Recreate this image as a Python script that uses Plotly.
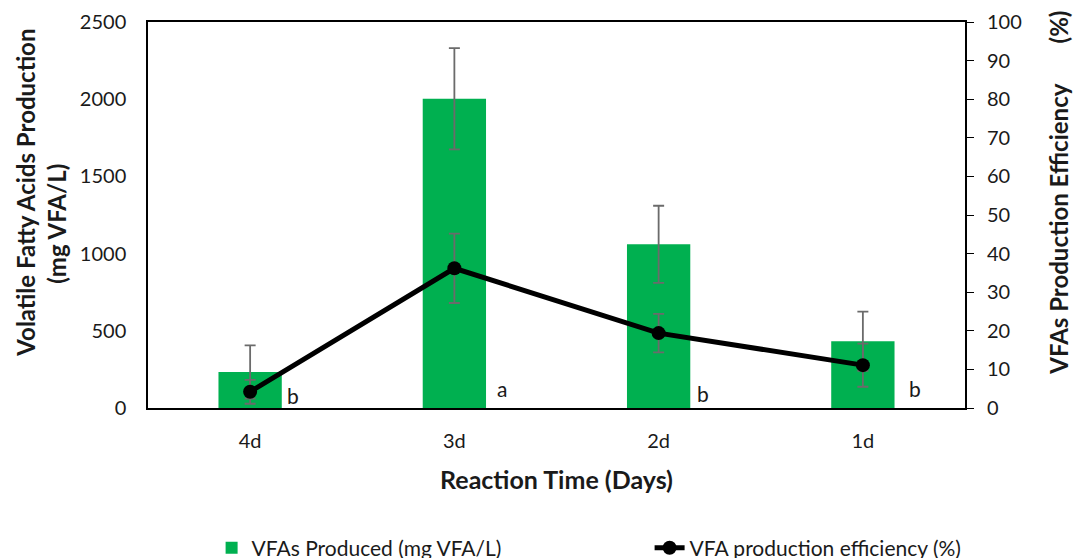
import plotly.graph_objects as go
from plotly.subplots import make_subplots

categories = ["4d", "3d", "2d", "1d"]
vfa_produced = [233, 2003, 1060, 432]
vfa_produced_err = [172, 328, 250, 192]
efficiency = [4.2, 36.2, 19.4, 11.1]
efficiency_err = [3.1, 9.0, 5.0, 5.6]
letters = ["b", "a", "b", "b"]
left_ticks = [0, 500, 1000, 1500, 2000, 2500]
right_ticks = list(range(0, 101, 10))

FONT = "Lato"
TXT = "#1a1a1a"
NB = "\u00a0"
fig = make_subplots(specs=[[{"secondary_y": True}]])

fig.add_trace(go.Bar(
    x=categories, y=vfa_produced, name="VFAs Produced (mg VFA/L)",
    marker=dict(color="#00B050", line=dict(width=0)),
    error_y=dict(type="data", array=vfa_produced_err, color="#6b6b6b", thickness=1.8, width=5.5),
    legendwidth=393,
), secondary_y=False)

fig.add_trace(go.Scatter(
    x=categories, y=efficiency, name="VFA production efficiency (%)",
    mode="lines+markers",
    line=dict(color="black", width=5),
    marker=dict(color="black", size=14),
    error_y=dict(type="data", array=efficiency_err, color="#6b6b6b", thickness=1.8, width=5.5),
), secondary_y=True)

shifts = [43, 48, 44, 52]
yshift = [13, 20, 15, 20]
for c, l, xs, ys in zip(categories, letters, shifts, yshift):
    fig.add_annotation(x=c, y=0, xref="x", yref="y", text=l, showarrow=False,
                       xshift=xs, yshift=ys, font=dict(family=FONT, size=21, color=TXT))

# page body has an 8px margin: plot area targeted at x 148..965, y 22..408 on screen
fig.update_layout(
    width=1083, height=558,
    margin=dict(l=140, r=126, t=14, b=158, autoexpand=False),
    paper_bgcolor="white", plot_bgcolor="white",
    bargap=0.69,
    font=dict(family=FONT, size=20, color=TXT),
    showlegend=True,
    legend=dict(orientation="h", xref="container", yref="container",
                x=0.188, xanchor="left", y=0.032, yanchor="middle",
                font=dict(family=FONT, size=21, color=TXT),
                itemwidth=30),
)

fig.update_xaxes(
    domain=[0, 1],
    showline=True, linecolor="black", linewidth=2, mirror=True,
    ticks="", ticklabelstandoff=14, automargin=False,
    title=dict(text="<b>Reaction Time (Days)</b>", font=dict(family=FONT, size=25, color=TXT), standoff=20),
)
fig.update_yaxes(
    range=[0, 2500], tickvals=left_ticks, showgrid=False, zeroline=False,
    showline=True, linecolor="black", linewidth=1.5, ticks="", automargin=False,
    ticklabelstandoff=16,
    title=dict(text="<b>" + NB * 8 + "Volatile Fatty Acids Production<br>(mg VFA/L)" + NB * 3 + "</b>",
               font=dict(family=FONT, size=24, color=TXT), standoff=6),
    secondary_y=False,
)
fig.update_yaxes(
    range=[0, 100], tickvals=right_ticks, showgrid=False, zeroline=False,
    showline=True, linecolor="black", linewidth=2, ticks="outside", ticklen=7, tickcolor="black",
    ticklabelstandoff=9, automargin=False,
    title=dict(text="<b>" + NB * 8 + "VFAs Production Efficiency" + NB * 7 + "(%)</b>",
               font=dict(family=FONT, size=24, color=TXT), standoff=30),
    secondary_y=True,
)

fig.write_html("out.html")
